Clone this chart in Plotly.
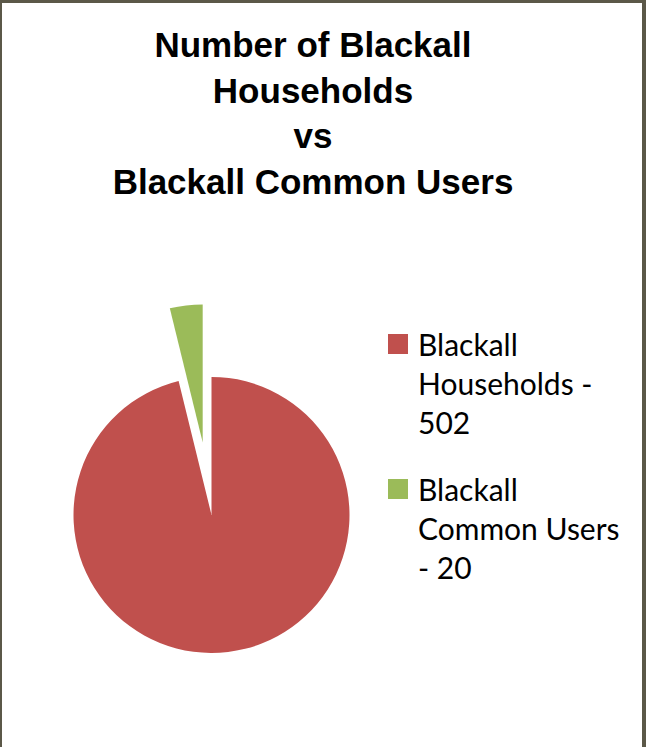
import plotly.graph_objects as go

# ---- data ----
labels = ["Blackall Households - 502", "Blackall Common Users - 20"]
legend_names = ["Blackall<br>Households -<br>502", "Blackall<br>Common Users<br>- 20"]
values = [502, 20]
colors = ["#C0504D", "#9BBB59"]
pulls = [0, 0.53]
title_text = "<b>Number of Blackall<br>Households<br>vs<br>Blackall Common Users</b>"

W, H = 646, 747

fig = go.Figure()

# pie centred at ~(211.5, 515) px, radius ~138 px
cx, cy, r = 211.5, 515, 138
half = r * (1 + max(pulls))
fig.add_trace(go.Pie(
    labels=labels,
    values=values,
    marker=dict(colors=colors, line=dict(width=0)),
    pull=pulls,
    sort=False,
    direction="clockwise",
    rotation=0,
    textinfo="none",
    hoverinfo="label+value",
    showlegend=False,
    domain=dict(x=[(cx - half) / W, (cx + half) / W],
                y=[(H - cy - half) / H, (H - cy + half) / H]),
))

# legend proxies (square swatches)
for i, (nm, col) in enumerate(zip(legend_names, colors)):
    fig.add_trace(go.Scatter(
        x=[None], y=[None], mode="markers", name=nm,
        legendgroup=f"g{i}",
        marker=dict(symbol="square", size=16, color=col, line=dict(width=4, color=col)),
    ))

fig.update_layout(
    width=W, height=H,
    margin=dict(l=0, r=0, t=0, b=0),
    paper_bgcolor="#5b5848",
    plot_bgcolor="rgba(0,0,0,0)",
    xaxis=dict(visible=False),
    yaxis=dict(visible=False),
    title=dict(text=title_text, x=313 / W, xanchor="center", y=1 - 57 / H, yanchor="top",
               font=dict(family="Liberation Sans, Arial, sans-serif", size=35, color="#000000")),
    legend=dict(x=378 / W, xanchor="left", y=1 - 318 / H, yanchor="top",
                valign="top", tracegroupgap=25,
                font=dict(family="Lato, sans-serif", size=30, color="#000000"),
                bgcolor="rgba(0,0,0,0)"),
    shapes=[dict(type="rect", xref="paper", yref="paper",
                 x0=2 / W, x1=642 / W, y0=0, y1=1 - 3 / H,
                 fillcolor="#ffffff", line=dict(width=0), layer="below")],
)

fig.write_html("out.html")
